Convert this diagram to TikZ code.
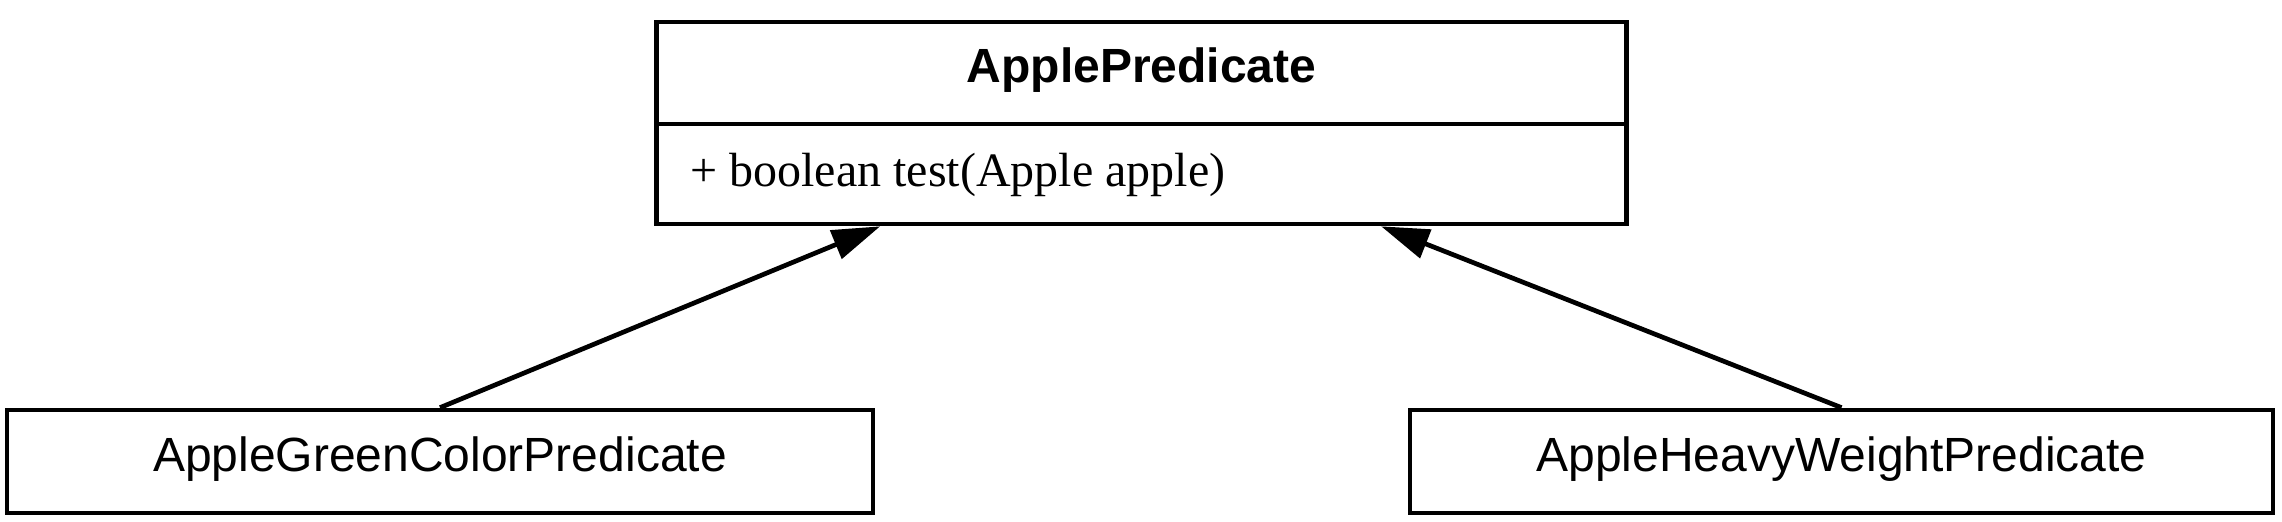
\documentclass[tikz,border=0pt]{standalone}
\usepackage{fontspec}
\setmainfont{Liberation Serif}
\newfontfamily\arialf{Liberation Sans}
\usetikzlibrary{arrows.meta,calc}
\tikzset{
  umlbox/.style={draw=black, line width=2.35pt, inner sep=0pt, fill=white},
  lbl/.style={font=\arialf\fontsize{24}{28}\selectfont, inner sep=0pt},
  meth/.style={font=\fontsize{24}{28}\selectfont, inner sep=0pt},
  inherit/.style={line width=2.35pt, -{Triangle[length=24pt,width=15pt]}}
}
\begin{document}
\begin{tikzpicture}[x=0.5pt,y=-0.5pt]
\useasboundingbox (0,0) rectangle (2282,522);
% top class
\node[umlbox, minimum width=485pt, minimum height=101pt] (top) at (1141.5,123) {};
\draw[line width=2.35pt] (top.west |- 0,124) coordinate (dw) -- (top.east |- 0,124) coordinate (de);
\node[lbl, font=\arialf\bfseries\fontsize{24}{28}\selectfont, anchor=base] (tname) at (1141.5,83) {ApplePredicate};
\node[meth, anchor=base west] (tmeth) at (690,187) {+ boolean test(Apple apple)};
% subclasses
\node[umlbox, minimum width=433pt, minimum height=51.5pt] (gl) at (440,461.5) {};
\node[lbl, anchor=base] (gltext) at (440,472) {AppleGreenColorPredicate};
\node[umlbox, minimum width=431.5pt, minimum height=51.5pt] (hw) at (1841.5,461.5) {};
\node[lbl, anchor=base] (hwtext) at (1841.5,472) {AppleHeavyWeightPredicate};
% connectors
\coordinate (tipl) at ($(top.south west)+(226,0)$);
\coordinate (tipr) at ($(top.south west)+(727,0)$);
\draw[inherit] (gl.north) -- (tipl);
\draw[inherit] (hw.north) -- (tipr);
\end{tikzpicture}
\end{document}
